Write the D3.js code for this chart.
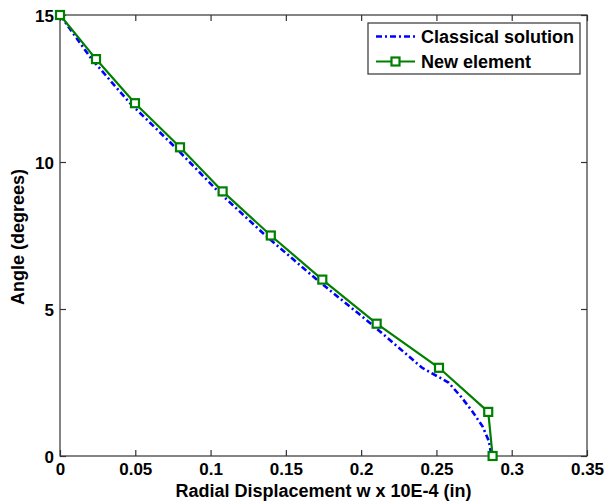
<!DOCTYPE html>
<html><head><meta charset="utf-8">
<script src="https://cdn.jsdelivr.net/npm/d3@7"></script>
<style>body{margin:0;background:#fff}svg{display:block}text{font-family:"Liberation Sans",Arial,sans-serif;font-weight:bold;fill:#000}</style>
</head><body><svg id="c" width="605" height="502"></svg>
<script>
const xTicks = [0,0.05,0.1,0.15,0.2,0.25,0.3,0.35];
const yTicks = [0,5,10,15];
const classicalAngle = [15,13.5,12,10.5,9,7.5,6,4.5,3,2.5,2,1.5,1,0.5,0];
const classicalDisp  = [0,0.021,0.0465,0.0765,0.105,0.1365,0.1705,0.2065,0.2405,0.258,0.2666,0.2741,0.2807,0.2849,0.2865];
const newAngle = [15,13.5,12,10.5,9,7.5,6,4.5,3,1.5,0];
const newDisp  = [0,0.0239,0.0498,0.0797,0.108,0.14,0.1742,0.2103,0.2517,0.2844,0.2873];
const seriesNames = ["Classical solution","New element"];

const L=60,R=587,T=15,B=456;
const svg=d3.select("#c");
const x=d3.scaleLinear().domain([0,0.35]).range([L,R]);
const y=d3.scaleLinear().domain([0,15]).range([B,T]);
const axisCol="#333";

svg.append("rect").attr("x",L).attr("y",T).attr("width",R-L).attr("height",B-T)
  .attr("fill","none").attr("stroke",axisCol).attr("stroke-width",1.2);

const fmt=d=>String(d);
const gx=svg.append("g").attr("transform",`translate(0,${B})`)
  .call(d3.axisBottom(x).tickValues(xTicks).tickFormat(fmt).tickSizeInner(-6).tickSizeOuter(0).tickPadding(9));
const gxt=svg.append("g").attr("transform",`translate(0,${T})`)
  .call(d3.axisTop(x).tickValues(xTicks).tickFormat("").tickSizeInner(-6).tickSizeOuter(0));
const gy=svg.append("g").attr("transform",`translate(${L},0)`)
  .call(d3.axisLeft(y).tickValues(yTicks).tickFormat(fmt).tickSizeInner(-6).tickSizeOuter(0).tickPadding(7));
const gyr=svg.append("g").attr("transform",`translate(${R},0)`)
  .call(d3.axisRight(y).tickValues(yTicks).tickFormat("").tickSizeInner(-6).tickSizeOuter(0));
[gx,gxt,gy,gyr].forEach(g=>{g.select(".domain").remove();g.selectAll("line").attr("stroke",axisCol).attr("stroke-width",1.2);});
[gx,gy].forEach(g=>g.selectAll("text").style("font-size","17px").attr("fill","#000"));
gx.selectAll("text").attr("dy","0.6em");
gy.selectAll("text").attr("dy","0.36em").attr("x",-6);

svg.append("text").attr("x",(L+R)/2).attr("y",497).attr("text-anchor","middle").style("font-size","18px")
  .text("Radial Displacement w x 10E-4 (in)");
svg.append("text").attr("transform","translate(24,237) rotate(-90)").attr("text-anchor","middle").style("font-size","18px")
  .text("Angle (degrees)");

const line=d3.line().x(d=>x(d[0])).y(d=>y(d[1]));
const cData=classicalDisp.map((v,i)=>[v,classicalAngle[i]]);
const nData=newDisp.map((v,i)=>[v,newAngle[i]]);

svg.append("path").datum(cData).attr("d",line).attr("fill","none").attr("stroke","#0000ff")
  .attr("stroke-width",2.6).attr("stroke-dasharray","6,3,2,3");
svg.append("path").datum(nData).attr("d",line).attr("fill","none").attr("stroke","#008000").attr("stroke-width",2.2);
const ms=8;
svg.selectAll("rect.m").data(nData).enter().append("rect").attr("class","m")
  .attr("x",d=>x(d[0])-ms/2).attr("y",d=>y(d[1])-ms/2).attr("width",ms).attr("height",ms)
  .attr("fill","#fff").attr("stroke","#008000").attr("stroke-width",2.2);

const lg=svg.append("g");
lg.append("rect").attr("x",368).attr("y",23).attr("width",212).attr("height",51)
  .attr("fill","#fff").attr("stroke",axisCol).attr("stroke-width",1.2);
lg.append("line").attr("x1",376).attr("x2",415).attr("y1",36.5).attr("y2",36.5)
  .attr("stroke","#0000ff").attr("stroke-width",2.6).attr("stroke-dasharray","6,3,2,3");
lg.append("line").attr("x1",376).attr("x2",415).attr("y1",61.5).attr("y2",61.5)
  .attr("stroke","#008000").attr("stroke-width",2.2);
lg.append("rect").attr("x",395.5-ms/2).attr("y",61.5-ms/2).attr("width",ms).attr("height",ms)
  .attr("fill","#fff").attr("stroke","#008000").attr("stroke-width",2.2);
lg.selectAll("text.l").data(seriesNames).enter().append("text").attr("class","l")
  .attr("x",421).attr("y",(d,i)=>36.5+25*i).attr("dy","0.36em").style("font-size","18px").text(d=>d);
</script></body></html>
